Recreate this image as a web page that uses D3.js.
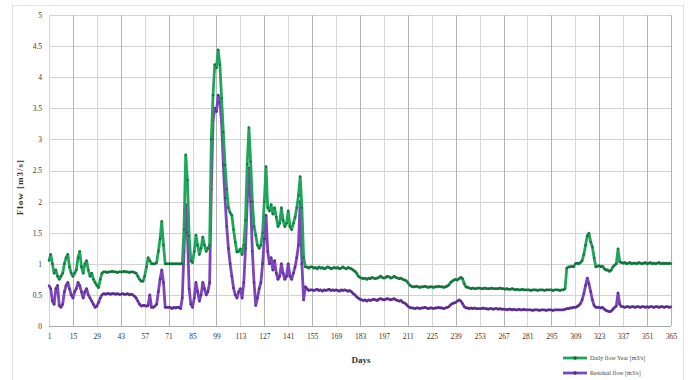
<!DOCTYPE html>
<html>
<head>
<meta charset="utf-8">
<script src="https://cdn.jsdelivr.net/npm/d3@7"></script>
<style>
  body { margin: 0; background: #fff; }
  svg text { font-family: "Liberation Serif", "DejaVu Serif", serif; }
</style>
</head>
<body>
<svg id="mainsvg" width="688" height="380"></svg>
<script>
// x ticks (days) and y ticks
var dayTicks = [1, 15, 29, 43, 57, 71, 85, 99, 113, 127, 141, 155, 169, 183, 197, 211, 225, 239, 253, 267, 281, 295, 309, 323, 337, 351, 365];
var flowTicks = [0, 0.5, 1, 1.5, 2, 2.5, 3, 3.5, 4, 4.5, 5];

// daily flow, day 1..365
var dailyFlow = [
  1.05, 1.15, 1.0, 0.85, 0.9, 0.8, 0.75, 0.8, 0.85, 1.0, 1.1, 1.15, 0.95, 0.85,
  0.8, 0.85, 0.9, 1.1, 1.2, 0.95, 0.85, 1.0, 1.05, 0.9, 0.8, 0.85, 0.75, 0.7,
  0.65, 0.62, 0.75, 0.85, 0.87, 0.87, 0.86, 0.87, 0.87, 0.88, 0.87, 0.87, 0.86, 0.87,
  0.87, 0.87, 0.88, 0.87, 0.87, 0.86, 0.87, 0.87, 0.86, 0.85, 0.8, 0.75, 0.72, 0.72,
  0.8, 0.95, 1.1, 1.05, 1.0, 1.0, 1.0, 1.02, 1.2, 1.4, 1.68, 1.3, 1.0, 1.0,
  1.0, 1.0, 1.0, 1.0, 1.0, 1.0, 1.0, 1.0, 1.0, 1.55, 2.75, 2.35, 1.45, 1.05,
  1.02, 1.2, 1.46, 1.3, 1.15, 1.25, 1.43, 1.3, 1.2, 1.25, 1.3, 3.0, 3.71, 4.2,
  4.15, 4.44, 4.2, 3.66, 3.12, 2.59, 2.2, 1.9, 1.82, 1.78, 1.55, 1.35, 1.19, 1.2,
  1.24, 1.15, 1.3, 1.7, 2.6, 3.19, 2.64, 2.0, 1.6, 1.46, 1.3, 1.25, 1.3, 1.5,
  2.0, 2.56, 1.9, 1.85, 1.95, 1.8, 1.9, 1.75, 1.6, 1.65, 1.9, 1.7, 1.6, 1.65,
  1.85, 1.6, 1.55, 1.65, 1.75, 1.9, 2.1, 2.4, 1.9, 1.1, 0.95, 0.95, 0.93, 0.95,
  0.95, 0.93, 0.94, 0.92, 0.95, 0.93, 0.94, 0.92, 0.93, 0.95, 0.94, 0.92, 0.93, 0.94,
  0.93, 0.94, 0.92, 0.93, 0.95, 0.93, 0.92, 0.94, 0.93, 0.92, 0.9, 0.88, 0.85, 0.8,
  0.78, 0.77, 0.76, 0.77, 0.75, 0.77, 0.76, 0.78, 0.77, 0.76, 0.77, 0.78, 0.8, 0.78,
  0.77, 0.78, 0.8, 0.79, 0.77, 0.78, 0.8, 0.78, 0.77, 0.76, 0.77, 0.75, 0.74, 0.73,
  0.7, 0.66, 0.64, 0.63, 0.63, 0.64, 0.63, 0.62, 0.63, 0.63, 0.64, 0.63, 0.62, 0.63,
  0.63, 0.62, 0.63, 0.63, 0.64, 0.63, 0.63, 0.62, 0.63, 0.64, 0.66, 0.7, 0.72, 0.74,
  0.75, 0.74, 0.76, 0.78, 0.76, 0.68, 0.63, 0.62, 0.61, 0.6, 0.61, 0.6, 0.6, 0.61,
  0.61, 0.6, 0.6, 0.61, 0.6, 0.6, 0.6, 0.61, 0.6, 0.6, 0.6, 0.6, 0.61, 0.6,
  0.6, 0.59, 0.6, 0.59, 0.59, 0.6, 0.59, 0.58, 0.59, 0.58, 0.58, 0.59, 0.58, 0.58,
  0.58, 0.58, 0.57, 0.58, 0.58, 0.58, 0.57, 0.58, 0.58, 0.58, 0.57, 0.58, 0.58, 0.58,
  0.58, 0.57, 0.58, 0.58, 0.58, 0.57, 0.58, 0.58, 0.6, 0.93, 0.95, 0.95, 0.96, 0.95,
  1.0, 1.01, 1.0, 1.02, 1.05, 1.15, 1.3, 1.45, 1.49, 1.35, 1.27, 1.1, 0.95, 0.96,
  0.97, 0.95, 0.96, 0.92, 0.9, 0.9, 0.88, 0.9, 0.95, 0.98, 1.0, 1.24, 1.03, 1.02,
  1.01, 1.02, 1.0, 1.01, 1.02, 1.0, 1.01, 1.01, 1.0, 1.02, 1.01, 1.0, 1.01, 1.02,
  1.0, 1.01, 1.02, 1.0, 1.01, 1.0, 1.01, 1.02, 1.0, 1.01, 1.0, 1.01, 1.0, 1.01, 1.0
];

// residual flow, day 1..365
var residualFlow = [
  0.65, 0.6, 0.4, 0.35, 0.6, 0.65, 0.33, 0.3, 0.35, 0.55, 0.65, 0.7, 0.6, 0.5,
  0.45, 0.55, 0.6, 0.7, 0.65, 0.55, 0.45, 0.55, 0.6, 0.5, 0.45, 0.4, 0.35, 0.3,
  0.32, 0.38, 0.45, 0.5, 0.52, 0.51, 0.52, 0.52, 0.51, 0.52, 0.52, 0.51, 0.52, 0.51,
  0.51, 0.52, 0.51, 0.51, 0.52, 0.5, 0.51, 0.5, 0.48, 0.45, 0.4, 0.35, 0.32, 0.33,
  0.33, 0.32, 0.33, 0.5, 0.3, 0.3, 0.32, 0.35, 0.55, 0.75, 0.9, 0.7, 0.3, 0.3,
  0.3, 0.3, 0.28, 0.3, 0.29, 0.3, 0.3, 0.28, 0.45, 1.2, 1.95, 1.5, 0.6, 0.35,
  0.3, 0.45, 0.7, 0.55, 0.4, 0.5, 0.7, 0.6, 0.5, 0.55, 0.7, 2.2, 3.3, 3.5,
  3.45, 3.71, 3.6, 3.28, 2.6, 2.06, 1.6, 1.25, 1.0, 0.8, 0.61, 0.5, 0.45, 0.55,
  0.6, 0.45, 0.7, 1.25, 2.0, 2.54, 2.0, 1.2, 0.7, 0.33, 0.45, 0.6, 0.7, 1.0,
  1.4, 1.78, 1.2, 1.0, 1.1, 0.9, 1.05, 0.85, 0.75, 0.8, 1.0, 0.85, 0.75, 0.8,
  1.0, 0.8, 0.75, 0.85, 0.95, 1.1, 1.3, 2.0, 1.0, 0.42, 0.63, 0.6, 0.57, 0.58,
  0.58, 0.57, 0.58, 0.59, 0.57, 0.58, 0.56, 0.58, 0.57, 0.58, 0.59, 0.57, 0.58, 0.57,
  0.58, 0.57, 0.56, 0.58, 0.57, 0.58, 0.57, 0.56, 0.57, 0.55, 0.52, 0.5, 0.47, 0.45,
  0.43, 0.42, 0.41, 0.42, 0.4, 0.42, 0.41, 0.42, 0.43, 0.42, 0.41, 0.43, 0.44, 0.43,
  0.42, 0.43, 0.44, 0.43, 0.42, 0.43, 0.44, 0.42, 0.41, 0.4, 0.41, 0.38, 0.37, 0.35,
  0.32, 0.3, 0.29, 0.29, 0.28, 0.29, 0.29, 0.28, 0.29, 0.29, 0.3, 0.29, 0.28, 0.29,
  0.29, 0.28, 0.29, 0.29, 0.3, 0.29, 0.29, 0.28, 0.29, 0.3, 0.31, 0.34, 0.36, 0.37,
  0.38, 0.4, 0.42, 0.4, 0.36, 0.31, 0.29, 0.29, 0.28, 0.29, 0.28, 0.29, 0.28, 0.28,
  0.28, 0.28, 0.29, 0.28, 0.28, 0.27, 0.28, 0.28, 0.27, 0.28, 0.28, 0.27, 0.28, 0.27,
  0.27, 0.27, 0.26, 0.27, 0.27, 0.26, 0.27, 0.26, 0.26, 0.27, 0.26, 0.26, 0.27, 0.26,
  0.26, 0.26, 0.26, 0.25, 0.26, 0.26, 0.26, 0.25, 0.26, 0.26, 0.26, 0.25, 0.26, 0.26,
  0.26, 0.25, 0.26, 0.26, 0.26, 0.26, 0.26, 0.26, 0.27, 0.28, 0.28, 0.29, 0.29, 0.3,
  0.3, 0.31, 0.33, 0.36, 0.42, 0.52, 0.65, 0.77, 0.68, 0.55, 0.42, 0.33, 0.3, 0.3,
  0.3, 0.29, 0.3, 0.27, 0.25, 0.24, 0.23, 0.24, 0.27, 0.3, 0.32, 0.53, 0.35, 0.31,
  0.31, 0.3, 0.31, 0.31, 0.3, 0.31, 0.31, 0.3, 0.31, 0.31, 0.3, 0.31, 0.31, 0.3,
  0.31, 0.3, 0.31, 0.31, 0.3, 0.31, 0.31, 0.3, 0.31, 0.31, 0.3, 0.31, 0.31, 0.3, 0.31
];

var seriesNames = ["Daily flow Year [m3/s]", "Residual flow [m3/s]"];

var svg = d3.select("#mainsvg");
var plotLeft = 49, plotRight = 671, plotTop = 15, plotBottom = 326;

var x = d3.scaleLinear().domain([1, 365]).range([plotLeft, plotRight]);
var y = d3.scaleLinear().domain([0, 5]).range([plotBottom, plotTop]);

// outer frame
svg.append("rect")
  .attr("x", 12.5).attr("y", 5.5).attr("width", 671).attr("height", 380)
  .attr("fill", "#fff").attr("stroke", "#e2e2e2");

// grid
svg.append("g")
  .selectAll("line")
  .data(flowTicks)
  .enter()
  .append("line")
  .attr("x1", plotLeft).attr("x2", plotRight)
  .attr("y1", function (d) { return Math.round(y(d)) + 0.5; })
  .attr("y2", function (d) { return Math.round(y(d)) + 0.5; })
  .attr("stroke", function (d) { return d == 0 ? "#aaa" : "#d2d2d2"; })
  .attr("stroke-width", 1);

svg.append("g")
  .selectAll("line")
  .data(dayTicks)
  .enter()
  .append("line")
  .attr("x1", function (d) { return Math.round(x(d)) + 0.5; })
  .attr("x2", function (d) { return Math.round(x(d)) + 0.5; })
  .attr("y1", plotTop).attr("y2", plotBottom)
  .attr("stroke", function (d, i) { return i % 2 == 1 || d == 365 ? "#b4b4b4" : "#d6d6d6"; })
  .attr("stroke-width", 1);

// axes
var xAxis = d3.axisBottom(x).tickValues(dayTicks).tickSize(0).tickPadding(8);
var gx = svg.append("g").attr("transform", "translate(0," + plotBottom + ")").call(xAxis);
gx.select(".domain").remove();
gx.selectAll("text").attr("font-size", 7.5).attr("fill", "#333").style("font-family", "Liberation Serif");

var yAxis = d3.axisLeft(y).tickValues(flowTicks).tickSize(0).tickPadding(7).tickFormat(d3.format("~g"));
var gy = svg.append("g").attr("transform", "translate(" + plotLeft + ",0)").call(yAxis);
gy.select(".domain").remove();
gy.selectAll("text").attr("font-size", 7.5).attr("fill", "#333").style("font-family", "Liberation Serif");

// axis titles
svg.append("text")
  .attr("x", 361).attr("y", 363)
  .attr("text-anchor", "middle")
  .attr("font-size", 9).attr("font-weight", "bold").attr("fill", "#333")
  .text("Days");

svg.append("text")
  .attr("transform", "translate(23,187) rotate(-90)")
  .attr("text-anchor", "middle")
  .attr("font-size", 9).attr("font-weight", "bold").attr("fill", "#333")
  .attr("letter-spacing", 1)
  .text("Flow  [m3/s]");

// series
var series = [
  { name: seriesNames[0], values: dailyFlow, color: "#1fa65a", mark: "#1b5e3a" },
  { name: seriesNames[1], values: residualFlow, color: "#7d45ba", mark: "#4a2a7a" }
];

var line = d3.line()
  .x(function (d, i) { return x(i + 1); })
  .y(function (d) { return y(d); });

// draw residual first so daily flow sits above it
series.slice().reverse().forEach(function (s) {
  var g = svg.append("g");
  g.append("path")
    .attr("d", line(s.values))
    .attr("fill", "none")
    .attr("stroke", s.color)
    .attr("stroke-width", 2.8)
    .attr("stroke-linejoin", "round");
  g.selectAll("circle")
    .data(s.values)
    .enter()
    .append("circle")
    .attr("cx", function (d, i) { return x(i + 1); })
    .attr("cy", function (d) { return y(d); })
    .attr("r", 1.2)
    .attr("fill", s.mark)
    .attr("fill-opacity", 0.75);
});

// legend
var legend = svg.append("g")
  .selectAll("g")
  .data(series)
  .enter()
  .append("g")
  .attr("transform", function (d, i) { return "translate(563," + (358 + i * 15) + ")"; });
legend.append("line")
  .attr("x1", 0).attr("x2", 24)
  .attr("stroke", function (d) { return d.color; })
  .attr("stroke-width", 2.8);
legend.append("circle")
  .attr("cx", 12).attr("r", 1.8)
  .attr("fill", function (d) { return d.mark; });
legend.append("text")
  .attr("x", 27).attr("y", 2)
  .attr("font-size", 6).attr("fill", "#444")
  .text(function (d) { return d.name; });
</script>
</body>
</html>
